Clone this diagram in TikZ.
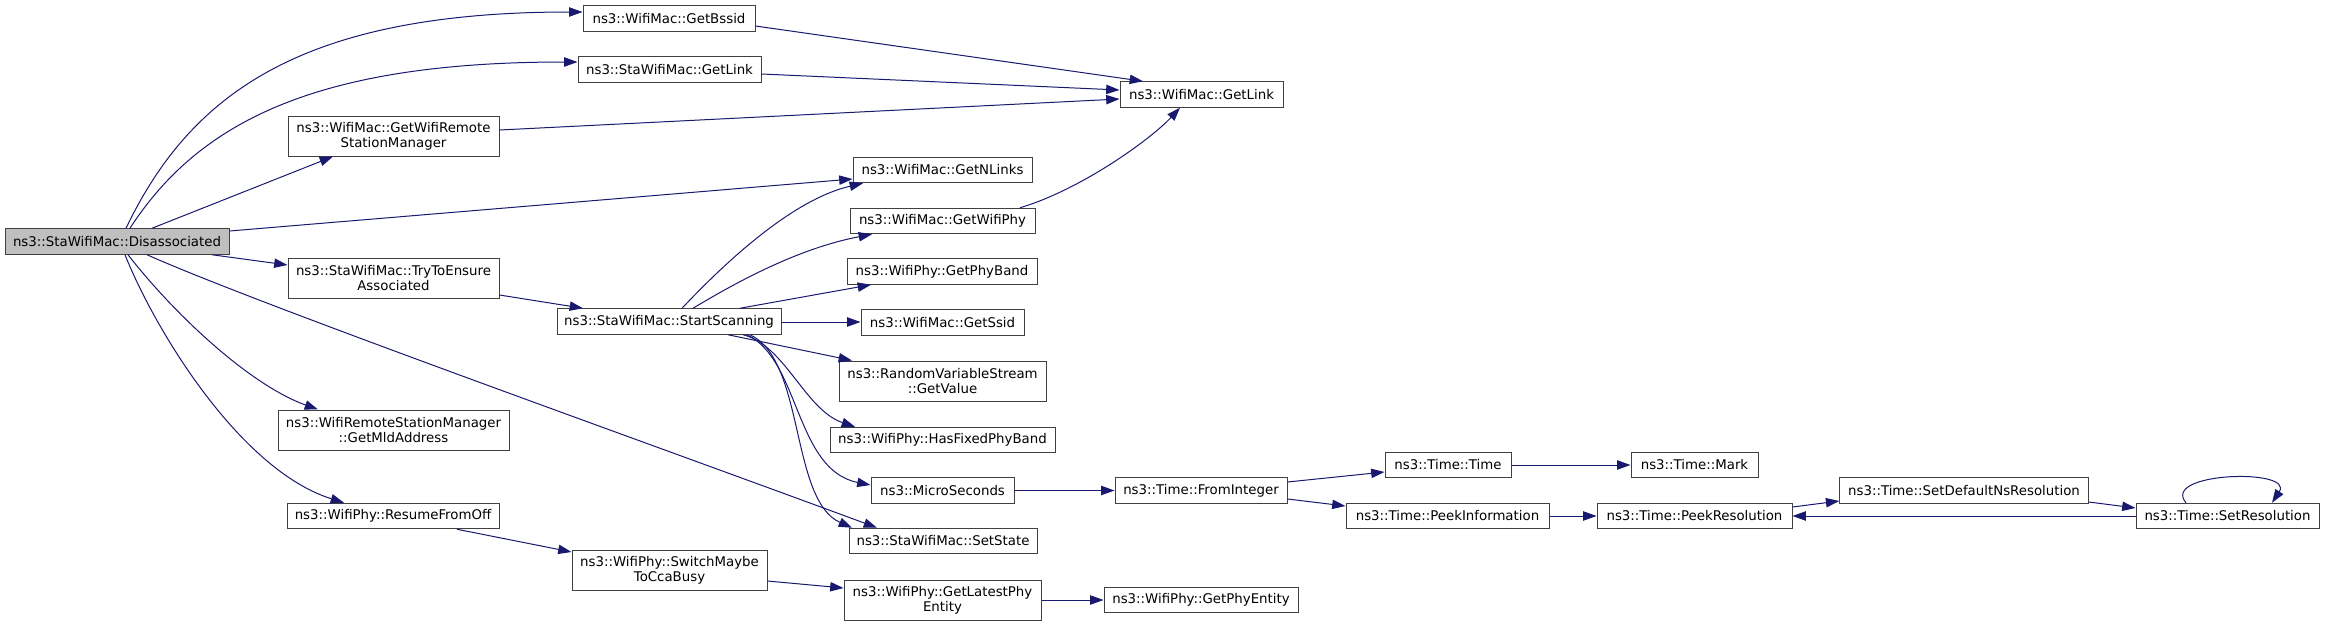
\documentclass[tikz,border=0pt]{standalone}
\usepackage{fontspec}
\setmainfont{DejaVu Sans}
\usetikzlibrary{arrows.meta}
\definecolor{midblue}{RGB}{25,25,112}
\definecolor{nodeborder}{RGB}{64,64,64}
\definecolor{rootfill}{RGB}{191,191,191}
\tikzset{
  fn/.style={draw=nodeborder, fill=white, line width=0.75pt, inner sep=0pt, align=center,
    font=\fontsize{10}{11}\selectfont},
  sz/.style 2 args={minimum width=#1*0.75pt, minimum height=#2*0.75pt},
  call/.style={draw=midblue, line width=0.75pt, -{Triangle[length=10pt,width=7pt]}}
}
\begin{document}
\begin{tikzpicture}[x=0.75pt,y=-0.75pt]
\fill[white] (0,0) rectangle (2325,625);
\useasboundingbox (0,0) rectangle (2325,625);
% nodes
\node[fn, fill=rootfill, sz={224}{25.5}] (dis) at (117,241.5) {ns3::StaWifiMac::Disassociated};
\node[fn, sz={172}{25.5}] (gb) at (669,18.5) {ns3::WifiMac::GetBssid};
\node[fn, sz={183}{25.5}] (sl) at (669.5,69.5) {ns3::StaWifiMac::GetLink};
\node[fn, sz={211}{40}] (gw) at (393.5,136) {ns3::WifiMac::GetWifiRemote\\StationManager};
\node[fn, sz={211}{40}] (tte) at (393.5,278) {ns3::StaWifiMac::TryToEnsure\\Associated};
\node[fn, sz={231}{40}] (mld) at (393.5,430) {ns3::WifiRemoteStationManager\\::GetMldAddress};
\node[fn, sz={212}{25.5}] (rfo) at (393,516) {ns3::WifiPhy::ResumeFromOff};
\node[fn, sz={224}{25.5}] (ss) at (669,321.5) {ns3::StaWifiMac::StartScanning};
\node[fn, sz={195}{40}] (sm) at (669.5,570.5) {ns3::WifiPhy::SwitchMaybe\\ToCcaBusy};
\node[fn, sz={163}{25.5}] (wl) at (1201.5,94.5) {ns3::WifiMac::GetLink};
\node[fn, sz={179}{25.5}] (nl) at (942.5,170) {ns3::WifiMac::GetNLinks};
\node[fn, sz={185}{25.5}] (wp) at (942.5,221) {ns3::WifiMac::GetWifiPhy};
\node[fn, sz={190}{25.5}] (pb) at (942,271.5) {ns3::WifiPhy::GetPhyBand};
\node[fn, sz={163}{25.5}] (gs) at (942.5,322.5) {ns3::WifiMac::GetSsid};
\node[fn, sz={207}{40}] (rv) at (942.5,381) {ns3::RandomVariableStream\\::GetValue};
\node[fn, sz={225}{25.5}] (hf) at (942.5,440) {ns3::WifiPhy::HasFixedPhyBand};
\node[fn, sz={143}{25.5}] (ms) at (942.5,490.5) {ns3::MicroSeconds};
\node[fn, sz={188}{25.5}] (st) at (943,541) {ns3::StaWifiMac::SetState};
\node[fn, sz={197}{40}] (le) at (942.5,600) {ns3::WifiPhy::GetLatestPhy\\Entity};
\node[fn, sz={172}{25.5}] (fi) at (1201,490.5) {ns3::Time::FromInteger};
\node[fn, sz={194}{25.5}] (pe) at (1201,600) {ns3::WifiPhy::GetPhyEntity};
\node[fn, sz={126}{25.5}] (tt) at (1448,465) {ns3::Time::Time};
\node[fn, sz={203}{25.5}] (pi) at (1447.5,516) {ns3::Time::PeekInformation};
\node[fn, sz={127}{25.5}] (mk) at (1694.5,465) {ns3::Time::Mark};
\node[fn, sz={195}{25.5}] (pr) at (1694.5,516) {ns3::Time::PeekResolution};
\node[fn, sz={248.5}{25.5}] (sd) at (1964,490.5) {ns3::Time::SetDefaultNsResolution};
\node[fn, sz={183}{25.5}] (sr) at (2227.5,516) {ns3::Time::SetResolution};
% edges
\draw[call] (dis.north -| 126,0) .. controls (190,95) and (300,12) .. (gb.west |- 0,12);
\draw[call] (dis.north -| 130,0) .. controls (200,120) and (320,62) .. (sl.west |- 0,62);
\draw[call] (dis.north -| 152,0) -- (gw.south -| 333,0);
\draw[call] (dis.east |- 0,231) -- (nl.west |- 0,179);
\draw[call] (dis.south -| 212,0) -- (tte.west |- 0,265);
\draw[call] (dis.south -| 147,0) .. controls (260,305) and (640,440) .. (st.north -| 877,0);
\draw[call] (dis.south -| 128,0) .. controls (175,315) and (250,385) .. (mld.north -| 318,0);
\draw[call] (dis.south -| 125,0) .. controls (155,330) and (240,470) .. (rfo.north -| 344,0);
\draw[call] (gb.east |- 0,26) -- (wl.north -| 1143,0);
\draw[call] (sl.east |- 0,74) -- (wl.west |- 0,90);
\draw[call] (gw.east |- 0,130) -- (wl.west |- 0,99);
\draw[call] (wp.north -| 1020,0) .. controls (1080,190) and (1150,140) .. (wl.south -| 1180,0);
\draw[call] (tte.east |- 0,295) -- (ss.north -| 583,0);
\draw[call] (ss.north -| 682,0) .. controls (720,268) and (790,200) .. (nl.south -| 863,0);
\draw[call] (ss.north -| 693,0) .. controls (740,280) and (800,248) .. (wp.south -| 872,0);
\draw[call] (ss.north -| 740,0) -- (pb.south -| 871,0);
\draw[call] (ss.east |- 0,322) -- (gs.west |- 0,322);
\draw[call] (ss.south -| 728,0) -- (rv.north -| 852,0);
\draw[call] (ss.south -| 743,0) .. controls (785,345) and (805,410) .. (hf.north -| 855,0);
\draw[call] (ss.south -| 747,0) .. controls (800,360) and (795,470) .. (ms.west |- 0,485);
\draw[call] (ss.south -| 750,0) .. controls (805,360) and (790,500) .. (st.north -| 852,0);
\draw[call] (ms.east) -- (fi.west);
\draw[call] (fi.east |- 0,482) -- (tt.west |- 0,472);
\draw[call] (fi.east |- 0,499) -- (pi.west |- 0,506);
\draw[call] (tt.east) -- (mk.west);
\draw[call] (pi.east) -- (pr.west);
\draw[call] (pr.east |- 0,507) -- (sd.west |- 0,501);
\draw[call] (sd.east |- 0,502) -- (sr.west |- 0,508);
\draw[call] (sr.west |- 0,516) -- (pr.east |- 0,516);
\draw[call] (sr.north -| 2186,0) .. controls (2160,472) and (2295,468) .. (sr.north -| 2272,0);
\draw[call] (rfo.south -| 457,0) -- (sm.west |- 0,552);
\draw[call] (sm.east |- 0,581) -- (le.west |- 0,588);
\draw[call] (le.east |- 0,600) -- (pe.west |- 0,600);
\end{tikzpicture}
\end{document}
